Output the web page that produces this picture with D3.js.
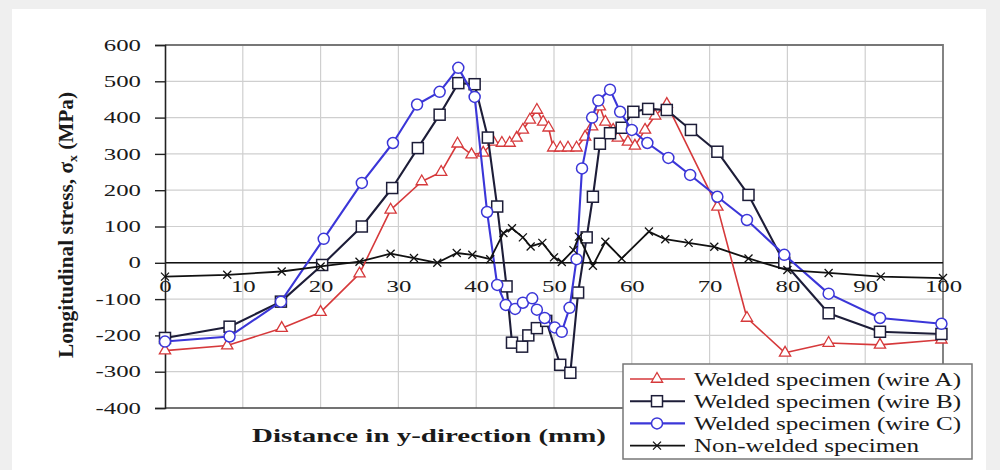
<!doctype html>
<html>
  <head>
    <meta charset="utf-8">
    <title>Longitudinal stress</title>
    <script src="https://cdn.jsdelivr.net/npm/d3@7/dist/d3.min.js"></script>
    <style>
      html, body { margin:0; padding:0; overflow:hidden; background:#efefef }
      svg { display:block }
      text { font-family: "Liberation Serif", "Times New Roman", serif; fill:#1a1a1a }
    </style>
  </head>
  <body>
    <div id="chart"></div>
    <script>
      // [distance mm, stress MPa]
      var wireA = [[0,-242],[8,-228],[15,-180],[20,-136],[25,-30],[29,146],[33,224],[35.5,250],
        [37.6,328],[39.4,298],[40.9,303],[42.2,333],[43.3,330],[44.3,330],[45.2,344],[46,366],
        [46.9,394],[47.8,421],[48.6,388],[49.3,372],[49.9,317],[50.8,317],[51.8,317],[52.9,317],
        [54,347],[54.9,375],[55.9,430],[56.6,388],[57.6,366],[58.2,344],[59.5,333],[60.4,322],
        [61.7,366],[63,405],[64.5,437],[71,154],[74.8,-152],[79.7,-248],[85.3,-221],[91.9,-226],[99.8,-212]];
      var wireB = [[0,-207],[8.3,-176],[14.9,-107],[20.2,-6],[25.3,100],[29.2,206],[32.5,316],
        [35.3,408],[37.7,495],[39.8,492],[41.5,345],[42.7,155],[43.9,-65],[44.6,-220],[45.9,-231],
        [46.7,-200],[47.8,-180],[49,-160],[50.8,-281],[52.1,-303],[53.1,-82],[54.2,70],[55,182],
        [55.9,328],[57.2,357],[58.7,372],[60.2,416],[62.1,424],[64.5,421],[67.6,366],[71,306],
        [75,187],[79.6,0],[85.3,-139],[91.9,-190],[99.8,-196]];
      var wireC = [[0,-217],[8.3,-203],[14.9,-107],[20.4,66],[25.3,220],[29.3,330],[32.4,436],
        [35.3,471],[37.7,537],[39.8,457],[41.4,140],[42.7,-61],[43.8,-116],[45,-127],[46,-110],
        [47.2,-98],[47.8,-129],[48.8,-152],[50.1,-178],[51,-190],[52,-124],[52.9,10],[53.6,260],
        [54.9,400],[55.7,447],[57.2,477],[58.5,416],[60,366],[62,330],[64.7,289],[67.5,242],
        [71,182],[74.8,118],[79.6,22],[85.3,-85],[91.9,-152],[99.8,-168]];
      var nonWelded = [[0,-38],[8,-33],[15,-24],[20,-10],[25,3],[29,25],[32,13],[35,0],[37.5,27],
        [39.5,22],[41.8,10],[43.5,82],[44.6,95],[46,70],[47,45],[48.5,55],[50,15],[51,2],
        [52.5,35],[53.2,72],[55,-8],[56.6,58],[58.7,12],[62.2,86],[64.3,65],[67.3,55],[70.6,44],
        [75,12],[80,-20],[85.3,-28],[92,-38],[100,-42]];

      var xTicks = [0,10,20,30,40,50,60,70,80,90,100];
      var yTicks = [-400,-300,-200,-100,0,100,200,300,400,500,600];
      var seriesNames = ["Welded specimen (wire A)","Welded specimen (wire B)",
        "Welded specimen (wire C)","Non-welded specimen"];

      var W = 1000, H = 470;
      var svg = d3.select("#chart").append("svg").attr("width", W).attr("height", H);

      svg.append("rect").attr("x", 12).attr("y", 9).attr("width", 974).attr("height", 470)
        .attr("fill", "#fff");

      var x = d3.scaleLinear().domain([0, 100]).range([165, 943]);
      var y = d3.scaleLinear().domain([-400, 600]).range([408, 45]);

      // stretch text horizontally like the (widened) source figure
      function stretch(sel, k) {
        sel.each(function() {
          var w = this.getComputedTextLength();
          d3.select(this).attr("textLength", w * k).attr("lengthAdjust", "spacingAndGlyphs");
        });
      }

      // grid
      svg.append("g").selectAll("line").data(xTicks.slice(1, -1)).join("line")
        .attr("x1", d => x(d)).attr("x2", d => x(d)).attr("y1", y(600)).attr("y2", y(-400))
        .attr("stroke", "#cfcfcf").attr("stroke-width", 1.2);
      svg.append("g").selectAll("line").data(yTicks.slice(1, -1)).join("line")
        .attr("x1", x(0)).attr("x2", x(100)).attr("y1", d => y(d)).attr("y2", d => y(d))
        .attr("stroke", "#cfcfcf").attr("stroke-width", 1.2);

      // frame
      svg.append("path")
        .attr("d", "M" + x(0) + "," + y(600) + "H" + x(100) + "V" + y(-400))
        .attr("fill", "none").attr("stroke", "#777").attr("stroke-width", 1.8);
      svg.append("line").attr("x1", x(0)).attr("x2", x(100)).attr("y1", y(-400)).attr("y2", y(-400))
        .attr("stroke", "#444").attr("stroke-width", 1.6);
      svg.append("line").attr("x1", x(0)).attr("x2", x(100)).attr("y1", y(0)).attr("y2", y(0))
        .attr("stroke", "#111").attr("stroke-width", 1.6);

      // y axis (plain hyphen minus, as in the source)
      var yAxis = svg.append("g").attr("transform", "translate(" + x(0) + ",0)")
        .call(d3.axisLeft(y).tickValues(yTicks).tickFormat(d => String(d))
          .tickSize(10).tickPadding(14));
      yAxis.select(".domain").attr("stroke", "#222").attr("stroke-width", 1.6);
      yAxis.selectAll(".tick line").attr("stroke", "#222").attr("stroke-width", 1.4);
      yAxis.selectAll("text").attr("font-size", 16).attr("fill", "#2a2a2a")
        .style("font-family", "'Liberation Serif', serif");
      stretch(yAxis.selectAll("text"), 1.55);

      // x axis labels sit under the zero line
      var xAxis = svg.append("g").attr("transform", "translate(0," + y(0) + ")")
        .call(d3.axisBottom(x).tickValues(xTicks).tickFormat(d => String(d))
          .tickSize(0).tickPadding(18));
      xAxis.select(".domain").remove();
      xAxis.selectAll("text").attr("font-size", 16).attr("fill", "#2a2a2a")
        .style("font-family", "'Liberation Serif', serif");
      stretch(xAxis.selectAll("text"), 1.55);

      // titles
      svg.append("text").attr("x", 429).attr("y", 442).attr("text-anchor", "middle")
        .attr("font-size", 19).attr("font-weight", "bold")
        .attr("textLength", 354).attr("lengthAdjust", "spacingAndGlyphs")
        .text("Distance in y-direction (mm)");
      var yt = svg.append("text").attr("transform", "translate(73,225) rotate(-90)")
        .attr("text-anchor", "middle").attr("font-size", 20).attr("font-weight", "bold")
        .attr("textLength", 266).attr("lengthAdjust", "spacingAndGlyphs");
      yt.append("tspan").text("Longitudinal stress, \u03c3");
      yt.append("tspan").attr("font-size", 13).attr("dy", 4).text("x");
      yt.append("tspan").attr("dy", -4).text(" (MPa)");

      // series
      var line = d3.line().x(d => x(d[0])).y(d => y(d[1]));
      var styles = [
        {data: wireA, color: "#d6393b", width: 1.6, marker: "tri"},
        {data: wireB, color: "#1d1d38", width: 2.1, marker: "sq"},
        {data: wireC, color: "#3b36d8", width: 2.1, marker: "circ"},
        {data: nonWelded, color: "#111", width: 1.8, marker: "x"}
      ];

      function marker(g, type, color) {
        if (type === "tri") {
          g.append("path").attr("d", d3.symbol(d3.symbolTriangle, 55)())
            .attr("fill", "#fff").attr("stroke", color).attr("stroke-width", 1.3);
        } else if (type === "sq") {
          g.append("rect").attr("x", -5.5).attr("y", -5.5).attr("width", 11).attr("height", 11)
            .attr("fill", "#fff").attr("stroke", color).attr("stroke-width", 1.5);
        } else if (type === "circ") {
          g.append("circle").attr("r", 5.5)
            .attr("fill", "#fff").attr("stroke", color).attr("stroke-width", 1.5);
        } else {
          g.append("path").attr("d", "M-4,-4L4,4M-4,4L4,-4")
            .attr("stroke", color).attr("stroke-width", 1.3);
        }
      }

      styles.forEach(function(s) {
        var g = svg.append("g");
        g.append("path").datum(s.data).attr("d", line)
          .attr("fill", "none").attr("stroke", s.color).attr("stroke-width", s.width)
          .attr("stroke-linejoin", "round");
        g.selectAll("g.m").data(s.data).join("g").attr("class", "m")
          .attr("transform", d => "translate(" + x(d[0]) + "," + y(d[1]) + ")")
          .each(function() { marker(d3.select(this), s.marker, s.color); });
      });

      // legend
      var lg = svg.append("g");
      lg.append("rect").attr("x", 623).attr("y", 364).attr("width", 349).attr("height", 95)
        .attr("fill", "#fff").attr("stroke", "#777").attr("stroke-width", 1.5);
      var lgTextWidth = [267, 267, 267, 225];
      styles.forEach(function(s, i) {
        var ly = 379 + i * 22.2;
        lg.append("line").attr("x1", 630).attr("x2", 685).attr("y1", ly).attr("y2", ly)
          .attr("stroke", s.color).attr("stroke-width", s.width);
        var m = lg.append("g").attr("transform", "translate(657," + ly + ")");
        marker(m, s.marker, s.color);
        lg.append("text").attr("x", 694).attr("y", ly + 6.5).attr("font-size", 19)
          .attr("textLength", lgTextWidth[i]).attr("lengthAdjust", "spacingAndGlyphs")
          .text(seriesNames[i]);
      });
    </script>
  </body>
</html>
